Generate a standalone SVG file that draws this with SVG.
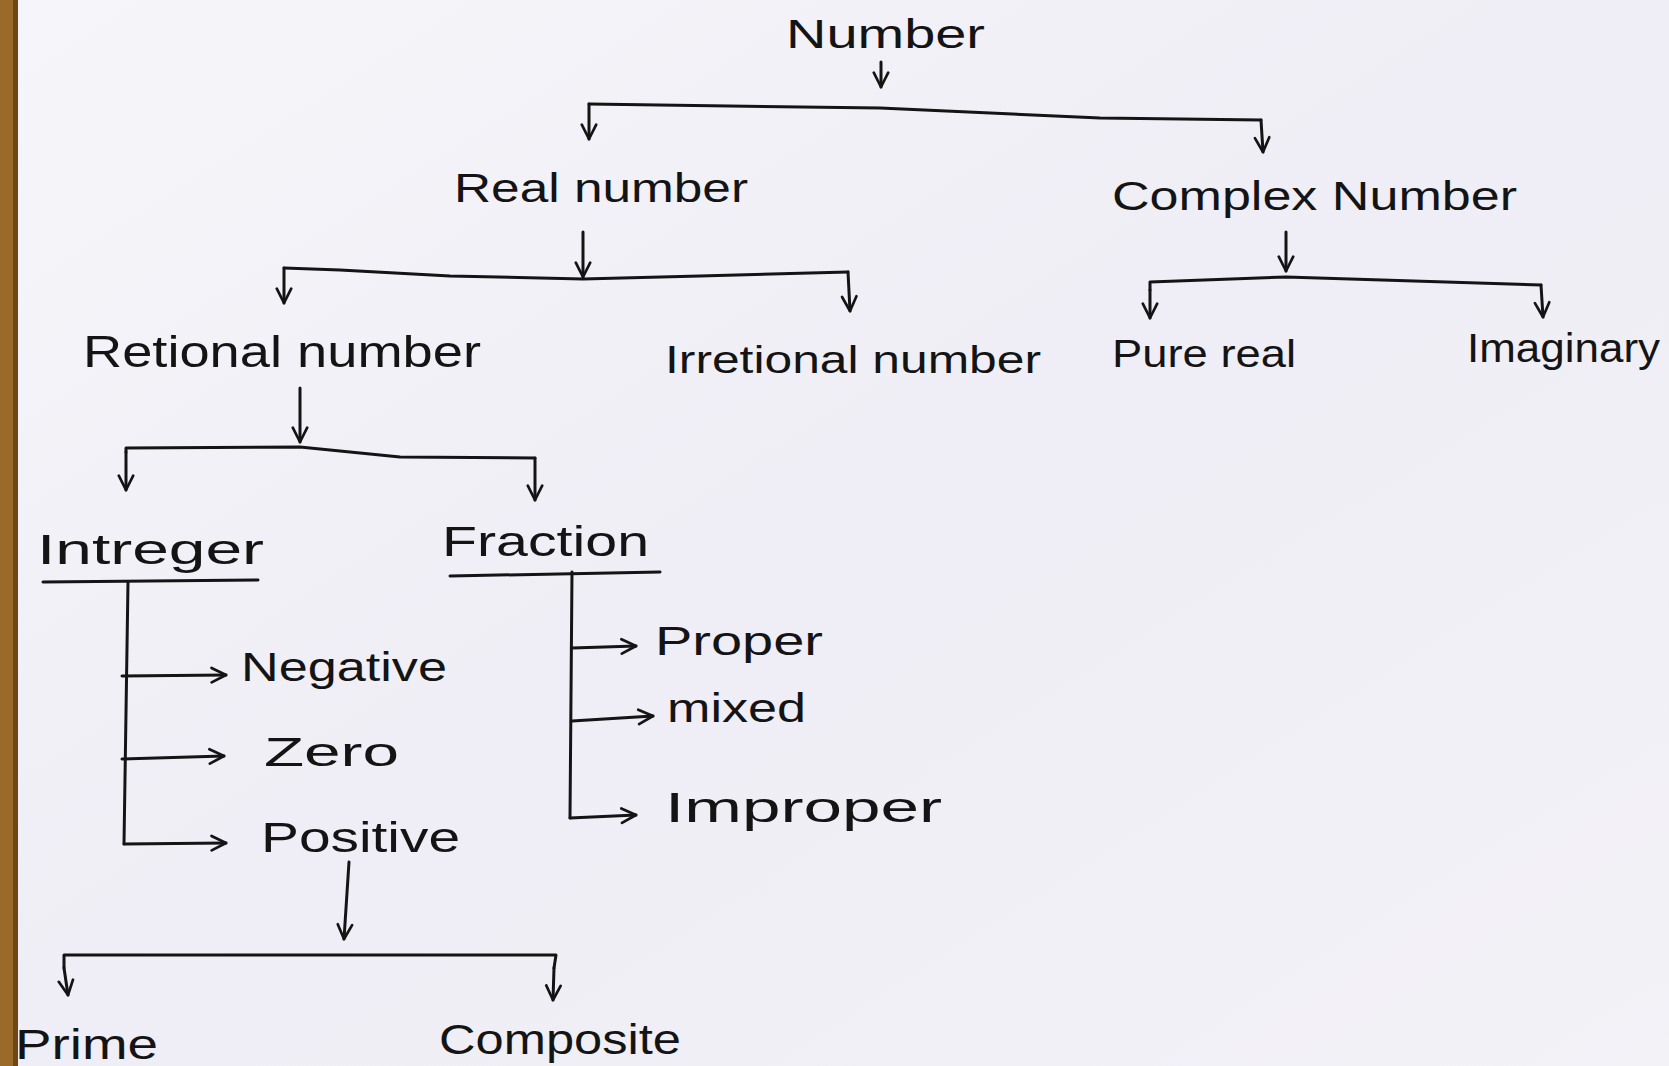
<svg xmlns="http://www.w3.org/2000/svg" width="1669" height="1066" viewBox="0 0 1669 1066">
<defs>
<marker id="ah" viewBox="0 0 10 10" refX="9" refY="5" markerWidth="18" markerHeight="18" markerUnits="userSpaceOnUse" orient="auto">
<path d="M1,1 L9,5 L1,9" fill="none" stroke="#141414" stroke-width="1.5" stroke-linecap="round" stroke-linejoin="round"/>
</marker>
<linearGradient id="bg" x1="0" y1="0" x2="1" y2="1">
<stop offset="0" stop-color="#f6f6fa"/>
<stop offset="0.5" stop-color="#efedf5"/>
<stop offset="1" stop-color="#f3f2f7"/>
</linearGradient>
</defs>
<style>
.t{font-family:"Liberation Sans","DejaVu Sans",sans-serif;fill:#141414}
.c{fill:none;stroke:#141414;stroke-width:3;stroke-linecap:round;stroke-linejoin:round}
.a{marker-end:url(#ah)}
</style>
<rect x="0" y="0" width="1669" height="1066" fill="url(#bg)"/>
<rect x="0" y="0" width="18" height="1066" fill="#9a6a2a"/>
<rect x="13" y="0" width="5" height="1066" fill="#6e4716"/>

<g id="connectors">
<path class="c a" d="M881,62 L881,87"/>
<path class="c" d="M589,104 L880,108 L1100,118 L1261,120"/>
<path class="c a" d="M589,104 L589,139"/>
<path class="c a" d="M1261,120 L1263,152"/>

<path class="c a" d="M583,232 L583,277"/>
<path class="c" d="M284,268 L340,270 L450,276 L583,279 L700,276 L848,272"/>
<path class="c a" d="M284,268 L284,303"/>
<path class="c a" d="M848,272 L850,311"/>

<path class="c a" d="M1286,232 L1286,271"/>
<path class="c" d="M1150,290 L1150,282 L1286,277 L1541,285"/>
<path class="c a" d="M1150,290 L1150,318"/>
<path class="c a" d="M1541,285 L1543,317"/>

<path class="c a" d="M300,388 L300,442"/>
<path class="c" d="M126,452 L126,448 L300,447 L400,457 L535,458"/>
<path class="c a" d="M126,452 L126,490"/>
<path class="c a" d="M535,458 L535,500"/>

<path class="c" d="M43,582 L258,580"/>
<path class="c" d="M450,576 L660,572"/>

<path class="c" d="M128,582 L124,844"/>
<path class="c a" d="M122,676 L226,675"/>
<path class="c a" d="M122,759 L224,756"/>
<path class="c a" d="M124,844 L226,843"/>

<path class="c" d="M572,572 L570,818"/>
<path class="c a" d="M572,648 L636,646"/>
<path class="c a" d="M572,721 L653,716"/>
<path class="c a" d="M570,818 L636,815"/>

<path class="c a" d="M349,862 L344,939"/>
<path class="c" d="M64,968 L64,955 L556,955 L554,968"/>
<path class="c a" d="M64,968 L68,995"/>
<path class="c a" d="M554,968 L553,1000"/>
</g>

<g id="n-number"><text class="t" x="786" y="48" font-size="40" textLength="199" lengthAdjust="spacingAndGlyphs">Number</text></g>
<g id="n-real"><text class="t" x="454" y="202" font-size="40" textLength="294" lengthAdjust="spacingAndGlyphs">Real number</text></g>
<g id="n-complex"><text class="t" x="1112" y="210" font-size="40" textLength="405" lengthAdjust="spacingAndGlyphs">Complex  Number</text></g>
<g id="n-rational"><text class="t" x="83" y="367" font-size="44" textLength="398" lengthAdjust="spacingAndGlyphs">Retional number</text></g>
<g id="n-irrational"><text class="t" x="665" y="373" font-size="38" textLength="376" lengthAdjust="spacingAndGlyphs">Irretional number</text></g>
<g id="n-purereal"><text class="t" x="1112" y="367" font-size="38" textLength="184" lengthAdjust="spacingAndGlyphs">Pure real</text></g>
<g id="n-imaginary"><text class="t" x="1467" y="362" font-size="40" textLength="193" lengthAdjust="spacingAndGlyphs">Imaginary</text></g>
<g id="n-integer"><text class="t" x="37" y="564" font-size="42" textLength="227" lengthAdjust="spacingAndGlyphs">Intreger</text></g>
<g id="n-fraction"><text class="t" x="442" y="556" font-size="42" textLength="207" lengthAdjust="spacingAndGlyphs">Fraction</text></g>
<g id="n-negative"><text class="t" x="241" y="681" font-size="40" textLength="206" lengthAdjust="spacingAndGlyphs">Negative</text></g>
<g id="n-zero"><text class="t" x="264" y="766" font-size="40" textLength="135" lengthAdjust="spacingAndGlyphs">Zero</text></g>
<g id="n-positive"><text class="t" x="261" y="852" font-size="42" textLength="199" lengthAdjust="spacingAndGlyphs">Positive</text></g>
<g id="n-proper"><text class="t" x="655" y="655" font-size="40" textLength="168" lengthAdjust="spacingAndGlyphs">Proper</text></g>
<g id="n-mixed"><text class="t" x="667" y="722" font-size="40" textLength="139" lengthAdjust="spacingAndGlyphs">mixed</text></g>
<g id="n-improper"><text class="t" x="665" y="822" font-size="42" textLength="277" lengthAdjust="spacingAndGlyphs">Improper</text></g>
<g id="n-prime"><text class="t" x="15" y="1059" font-size="42" textLength="143" lengthAdjust="spacingAndGlyphs">Prime</text></g>
<g id="n-composite"><text class="t" x="439" y="1054" font-size="42" textLength="242" lengthAdjust="spacingAndGlyphs">Composite</text></g>
</svg>
